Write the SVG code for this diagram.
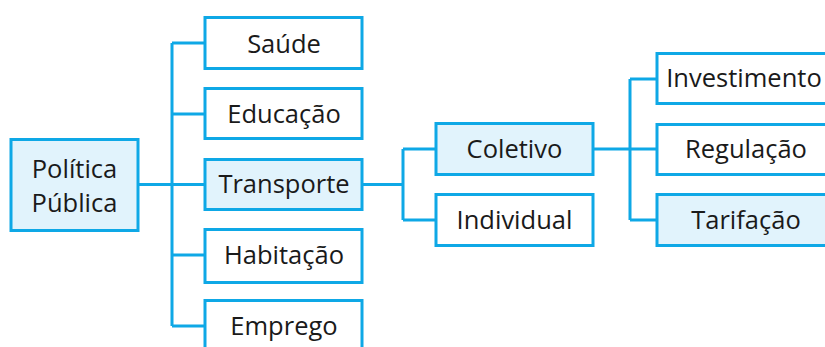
<svg xmlns="http://www.w3.org/2000/svg" width="825" height="347" viewBox="0 0 825 347">
<style>
.box{fill:#ffffff;stroke:#0ea8e6;stroke-width:3}
.hl{fill:#e1f3fc}
.t{font-family:"Open Sans","Noto Sans",sans-serif;font-size:25.5px;fill:#1a1a1a;text-anchor:middle}
.c{fill:none;stroke:#0ea8e6;stroke-width:3}
</style>
<rect width="825" height="347" fill="#ffffff"/>
<g id="connectors">
<path class="c" d="M138,184.5 H205 M172,43 V326 M172,43 H205 M172,114 H205 M172,255 H205 M172,326 H205"/>
<path class="c" d="M362,184.5 H403 M403,149 V220 M403,149 H436 M403,220 H436"/>
<path class="c" d="M593,149 H657 M630,79 V220 M630,79 H657 M630,220 H657"/>
</g>
<g id="politica"><rect class="box hl" x="11" y="139.5" width="127" height="91"/><text class="t" x="74.5" y="178">Política</text><text class="t" x="74.5" y="212">Pública</text></g>
<g id="saude"><rect class="box" x="205" y="17.5" width="157" height="51"/><text class="t" x="284" y="53">Saúde</text></g>
<g id="educacao"><rect class="box" x="205" y="88.5" width="157" height="50"/><text class="t" x="284" y="123">Educação</text></g>
<g id="transporte"><rect class="box hl" x="205" y="159.5" width="157" height="50"/><text class="t" x="284" y="193">Transporte</text></g>
<g id="habitacao"><rect class="box" x="205" y="229.5" width="157" height="53"/><text class="t" x="284" y="264">Habitação</text></g>
<g id="emprego"><rect class="box" x="205" y="300.5" width="157" height="60"/><text class="t" x="284" y="335">Emprego</text></g>
<g id="coletivo"><rect class="box hl" x="436" y="123.5" width="157" height="51"/><text class="t" x="514.5" y="158">Coletivo</text></g>
<g id="individual"><rect class="box" x="436" y="194.5" width="157" height="51"/><text class="t" x="514.5" y="229">Individual</text></g>
<g id="investimento"><rect class="box" x="657" y="53.5" width="190" height="50"/><text class="t" x="744" y="87">Investimento</text></g>
<g id="regulacao"><rect class="box" x="657" y="124.5" width="190" height="50"/><text class="t" x="746" y="158">Regulação</text></g>
<g id="tarifacao"><rect class="box hl" x="657" y="194.5" width="190" height="51"/><text class="t" x="746" y="229">Tarifação</text></g>
</svg>
